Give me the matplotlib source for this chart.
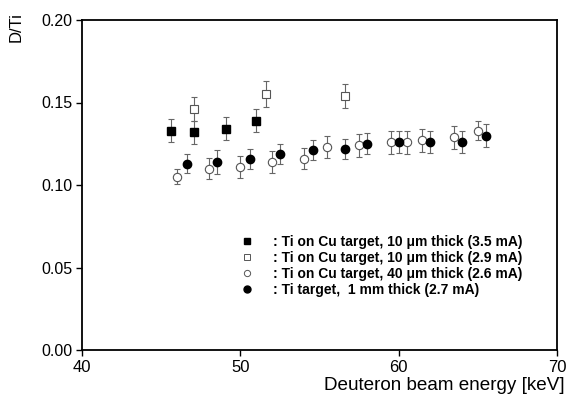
import matplotlib
matplotlib.use("Agg")
import matplotlib.pyplot as plt
from matplotlib.lines import Line2D

plt.rcParams['font.family'] = ['Liberation Sans', 'DejaVu Sans']

# Data
sq_filled_x = [45.6, 47.1, 49.1, 51.0]
sq_filled_y = [0.133, 0.132, 0.134, 0.139]
sq_filled_err = [0.007, 0.007, 0.007, 0.007]

sq_open_x = [47.1, 51.6, 56.6]
sq_open_y = [0.146, 0.155, 0.154]
sq_open_err = [0.0075, 0.008, 0.0075]

circ_open_x = [46.0, 48.0, 50.0, 52.0, 54.0, 55.5, 57.5, 59.5, 60.5, 61.5, 63.5, 65.0]
circ_open_y = [0.105, 0.110, 0.111, 0.114, 0.116, 0.123, 0.124, 0.126, 0.126, 0.127, 0.129, 0.133]
circ_open_err = [0.0045, 0.0065, 0.0065, 0.0065, 0.0065, 0.0065, 0.007, 0.007, 0.007, 0.007, 0.007, 0.006]

circ_filled_x = [46.6, 48.5, 50.6, 52.5, 54.6, 56.6, 58.0, 60.0, 62.0, 64.0, 65.5]
circ_filled_y = [0.113, 0.114, 0.116, 0.119, 0.121, 0.122, 0.125, 0.126, 0.126, 0.126, 0.130]
circ_filled_err = [0.006, 0.0075, 0.006, 0.006, 0.006, 0.006, 0.0065, 0.0065, 0.0065, 0.0065, 0.007]

labels = [": Ti on Cu target, 10 \u03bcm thick (3.5 mA)",
          ": Ti on Cu target, 10 \u03bcm thick (2.9 mA)",
          ": Ti on Cu target, 40 \u03bcm thick (2.6 mA)",
          ": Ti target,  1 mm thick (2.7 mA)"]

xticks = [40, 50, 60, 70]
yticks = [0.00, 0.05, 0.10, 0.15, 0.20]

fig = plt.figure(figsize=(5.67, 4.05), dpi=100)
ax = fig.add_axes([82/567, 1-350/405, (557-82)/567, (350-20)/405])

ecol = '#666666'
common = dict(ecolor=ecol, elinewidth=0.8, capsize=2.2, capthick=0.8, linestyle='none')

ax.errorbar(sq_filled_x, sq_filled_y, yerr=sq_filled_err, marker='s', ms=5.3,
            mfc='black', mec='black', **common, zorder=3)
ax.errorbar(sq_open_x, sq_open_y, yerr=sq_open_err, marker='s', ms=5.3,
            mfc='white', mec='#555555', mew=0.8, **common, zorder=3)
ax.errorbar(circ_open_x, circ_open_y, yerr=circ_open_err, marker='o', ms=6,
            mfc='white', mec='#555555', mew=0.8, **common, zorder=3)
ax.errorbar(circ_filled_x, circ_filled_y, yerr=circ_filled_err, marker='o', ms=6,
            mfc='black', mec='black', **common, zorder=4)

ax.set_xlim(40, 70)
ax.set_ylim(0, 0.20)
ax.set_xticks(xticks)
ax.set_yticks(yticks)
ax.set_yticklabels([f"{v:.2f}" for v in yticks])
ax.tick_params(axis='both', direction='out', length=4, width=1.0)
ax.tick_params(axis='y', labelsize=11.5, pad=3)
ax.tick_params(axis='x', labelsize=12, pad=3)
for s in ax.spines.values():
    s.set_linewidth(1.3)

fig.text(565/567, 1-386/405, "Deuteron beam energy [keV]", ha='right', va='center', fontsize=13.6)
fig.text(16/567, 1-12/405, "D/Ti", rotation=90, ha='center', va='top', fontsize=12)

handles = [
    Line2D([], [], marker='s', ls='none', ms=4.5, mfc='black', mec='black'),
    Line2D([], [], marker='s', ls='none', ms=4.5, mfc='white', mec='#555555', mew=0.7),
    Line2D([], [], marker='o', ls='none', ms=4.5, mfc='white', mec='#555555', mew=0.7),
    Line2D([], [], marker='o', ls='none', ms=5, mfc='black', mec='black'),
]
leg = ax.legend(handles, labels, loc='upper left',
                bbox_to_anchor=(240/567, 1-235/405), bbox_transform=fig.transFigure,
                frameon=False, prop={'weight': 'bold', 'size': 10},
                handlelength=1.0, handletextpad=1.4, labelspacing=0.15,
                borderpad=0, borderaxespad=0)

fig.savefig("out.png", dpi=100)
